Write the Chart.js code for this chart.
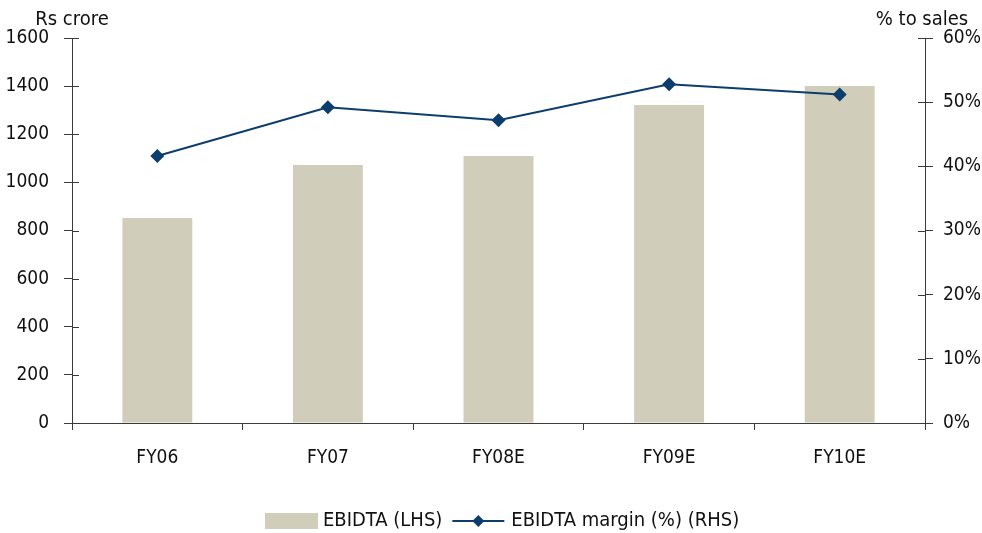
<!DOCTYPE html>
<html>
<head>
<meta charset="utf-8">
<script src="https://cdn.jsdelivr.net/npm/chart.js@4.4.1/dist/chart.umd.min.js"></script>
<style>
  html, body { margin: 0; padding: 0; background: #ffffff; }
  #wrap { width: 982px; height: 533px; position: relative; }
</style>
</head>
<body>
<div id="wrap"><canvas id="chart" width="982" height="533"></canvas></div>
<script>
// EBIDTA (Rs crore) and EBIDTA margin (% to sales) by fiscal year
const categories = ['FY06', 'FY07', 'FY08E', 'FY09E', 'FY10E'];
const ebidta = [852, 1072, 1110, 1322, 1401];
const ebidtaMargin = [41.6, 49.2, 47.2, 52.8, 51.2];
const leftTicks = [0, 200, 400, 600, 800, 1000, 1200, 1400, 1600];
const rightTicks = [0, 10, 20, 30, 40, 50, 60];
const leftTitle = 'Rs crore';
const rightTitle = '% to sales';

const FONT = "'DejaVu Sans Condensed', 'Liberation Sans Narrow', 'Liberation Sans', sans-serif";
const TICK_SIZE = 19;
const TEXT_SIZE = 20;
const INK = '#111111';
const AXIS = '#3a3a3a';
const BAR = '#d0cebb';
const LINE = '#0c3d6d';

// cross ticks on the value axes and the two axis titles
const axisExtras = {
  id: 'axisExtras',
  afterDraw(chart) {
    const ctx = chart.ctx;
    const yL = chart.scales.y, yR = chart.scales.y1;
    ctx.save();
    ctx.strokeStyle = AXIS;
    ctx.lineWidth = 1;
    yL.ticks.forEach(t => {
      const py = Math.round(yL.getPixelForValue(t.value)) + 0.5;
      ctx.beginPath(); ctx.moveTo(yL.right, py); ctx.lineTo(yL.right + 7, py); ctx.stroke();
    });
    yR.ticks.forEach(t => {
      const py = Math.round(yR.getPixelForValue(t.value)) + 0.5;
      ctx.beginPath(); ctx.moveTo(yR.left - 7, py); ctx.lineTo(yR.left, py); ctx.stroke();
    });
    ctx.fillStyle = INK;
    ctx.font = TEXT_SIZE + 'px ' + FONT;
    ctx.textBaseline = 'alphabetic';
    ctx.textAlign = 'center';
    ctx.fillText(leftTitle, yL.right, 25);
    ctx.fillText(rightTitle, yR.left - 3, 25);
    ctx.restore();
  }
};

// legend row under the category labels: bar swatch first, then the line
const bottomLegend = {
  id: 'bottomLegend',
  afterDraw(chart) {
    const ctx = chart.ctx;
    const barDs = chart.data.datasets.find(d => d.type === 'bar');
    const lineDs = chart.data.datasets.find(d => d.type === 'line');
    ctx.save();
    ctx.font = TEXT_SIZE + 'px ' + FONT;
    ctx.textBaseline = 'middle';
    ctx.textAlign = 'left';
    const cy = 521;
    const swW = 53, swH = 16, lnW = 52;
    const w1 = ctx.measureText(barDs.label).width;
    const w2 = ctx.measureText(lineDs.label).width;
    const total = swW + 5 + w1 + 10 + lnW + 7 + w2;
    let x = Math.round(502 - total / 2);
    ctx.fillStyle = barDs.backgroundColor;
    ctx.fillRect(x, cy - swH / 2, swW, swH);
    x += swW + 5;
    ctx.fillStyle = INK;
    ctx.fillText(barDs.label, x, cy);
    x += w1 + 10;
    ctx.strokeStyle = lineDs.borderColor;
    ctx.lineWidth = 2;
    ctx.beginPath(); ctx.moveTo(x, cy); ctx.lineTo(x + lnW, cy); ctx.stroke();
    const mx = x + lnW / 2, r = 6;
    ctx.fillStyle = lineDs.pointBackgroundColor;
    ctx.beginPath();
    ctx.moveTo(mx, cy - r); ctx.lineTo(mx + r, cy); ctx.lineTo(mx, cy + r); ctx.lineTo(mx - r, cy);
    ctx.closePath(); ctx.fill();
    x += lnW + 7;
    ctx.fillStyle = INK;
    ctx.fillText(lineDs.label, x, cy);
    ctx.restore();
  }
};

new Chart(document.getElementById('chart'), {
  type: 'bar',
  data: {
    labels: categories,
    datasets: [
      {
        type: 'line',
        label: 'EBIDTA margin (%) (RHS)',
        data: ebidtaMargin,
        yAxisID: 'y1',
        borderColor: LINE,
        borderWidth: 2,
        pointStyle: 'rectRot',
        pointRadius: 7,
        pointHoverRadius: 7,
        pointBackgroundColor: LINE,
        pointBorderColor: LINE,
        pointBorderWidth: 0,
        tension: 0,
        order: 0
      },
      {
        type: 'bar',
        label: 'EBIDTA (LHS)',
        data: ebidta,
        yAxisID: 'y',
        backgroundColor: BAR,
        borderWidth: 0,
        categoryPercentage: 1,
        barPercentage: 0.41,
        order: 1
      }
    ]
  },
  options: {
    responsive: false,
    animation: false,
    devicePixelRatio: 1,
    layout: { padding: { top: 38, bottom: 0, left: 0, right: 0 } },
    plugins: { legend: { display: false }, tooltip: { enabled: false } },
    scales: {
      x: {
        offset: true,
        grid: { offset: true, drawOnChartArea: false, drawTicks: true, tickLength: 7, color: AXIS },
        border: { display: true, color: AXIS, width: 1 },
        ticks: { color: INK, font: { family: FONT, size: TICK_SIZE }, padding: 17, maxRotation: 0 },
        afterFit(s) { s.height = 110; }
      },
      y: {
        position: 'left',
        min: 0, max: 1600,
        afterBuildTicks(s) { s.ticks = leftTicks.map(v => ({ value: v })); },
        grid: { drawOnChartArea: false, drawTicks: true, tickLength: 8, color: AXIS },
        border: { display: true, color: AXIS, width: 1 },
        ticks: { color: INK, font: { family: FONT, size: TICK_SIZE }, padding: 15, callback: v => String(v) },
        afterFit(s) { s.width = 72; }
      },
      y1: {
        position: 'right',
        min: 0, max: 60,
        afterBuildTicks(s) { s.ticks = rightTicks.map(v => ({ value: v })); },
        grid: { drawOnChartArea: false, drawTicks: true, tickLength: 8, color: AXIS },
        border: { display: true, color: AXIS, width: 1 },
        ticks: { color: INK, font: { family: FONT, size: TICK_SIZE }, padding: 10, callback: v => v + '%' },
        afterFit(s) { s.width = 57; }
      }
    }
  },
  plugins: [axisExtras, bottomLegend]
});
</script>
</body>
</html>
